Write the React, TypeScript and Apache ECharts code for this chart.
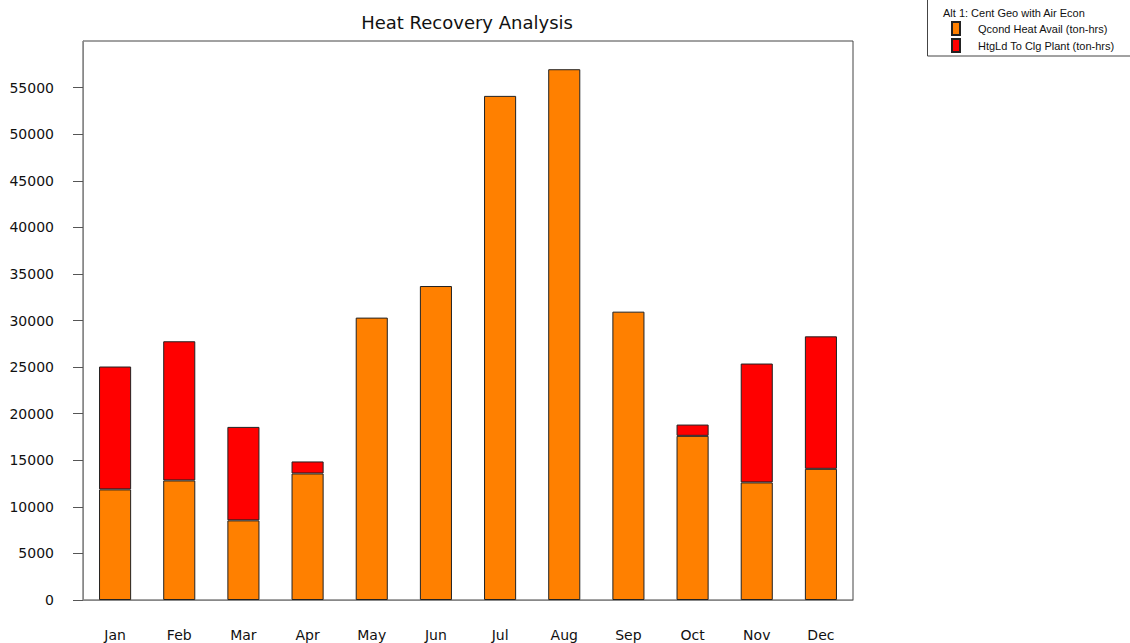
import React, { useEffect, useRef } from "react";
import * as echarts from "echarts";

const months = ["Jan", "Feb", "Mar", "Apr", "May", "Jun", "Jul", "Aug", "Sep", "Oct", "Nov", "Dec"];
const qcondHeatAvail = [11870, 12830, 8545, 13580, 30310, 33700, 54110, 56970, 30950, 17620, 12620, 14080];
const htgLdToClgPlant: (number | string)[] = [13190, 14940, 10035, 1290, "-", "-", "-", "-", "-", 1210, 12760, 14220];
const seriesNames = ["Qcond Heat Avail (ton-hrs)", "HtgLd To Clg Plant (ton-hrs)"];
const legendTitle = "Alt 1: Cent Geo with Air Econ";
const chartTitle = "Heat Recovery Analysis";

const FONT = "'Liberation Sans', Arial, sans-serif";
const WIDE = "'DejaVu Sans', sans-serif";

export default function App() {
  const ref = useRef<HTMLDivElement>(null);
  useEffect(() => {
    if (!ref.current) return;
    const chart = echarts.init(ref.current, undefined, { renderer: "svg" });
    chart.setOption({
      animation: false,
      backgroundColor: "#ffffff",
      title: {
        text: chartTitle,
        left: 462,
        textAlign: "center",
        top: 8,
        textStyle: { fontFamily: WIDE, fontSize: 18, fontWeight: "normal", color: "#111" },
      },
      legend: {
        orient: "vertical",
        left: 951,
        top: 21,
        padding: 0,
        itemWidth: 8,
        itemHeight: 13,
        itemGap: 2,
        icon: "rect",
        selectedMode: false,
        textStyle: { fontFamily: FONT, fontSize: 11, color: "#111", padding: [0, 0, 0, 13] },
        data: seriesNames,
      },
      graphic: [
        {
          type: "rect",
          shape: { x: 927.5, y: -2, width: 210, height: 58 },
          style: { fill: "none", stroke: "#444", lineWidth: 1 },
          silent: true,
        },
        {
          type: "text",
          x: 943,
          y: 7,
          style: { text: legendTitle, font: "11px " + FONT, fill: "#111" },
          silent: true,
        },
        {
          type: "line",
          shape: { x1: 73, y1: 600.5, x2: 83, y2: 600.5 },
          style: { stroke: "#888", lineWidth: 1 },
          silent: true,
        },
      ],
      grid: {
        left: 83,
        right: 277,
        top: 41,
        bottom: 43,
        show: true,
        borderColor: "#444",
        borderWidth: 1,
        backgroundColor: "transparent",
      },
      xAxis: {
        type: "category",
        data: months,
        axisLine: { lineStyle: { color: "#888", width: 1 } },
        axisTick: { alignWithLabel: true, length: 8, lineStyle: { color: "#666" } },
        axisLabel: { fontFamily: WIDE, fontSize: 14, color: "#111", margin: 28 },
      },
      yAxis: {
        type: "value",
        min: 0,
        max: 60000,
        interval: 5000,
        axisLine: { show: true, lineStyle: { color: "#888", width: 1 } },
        axisTick: { show: true, length: 10, lineStyle: { color: "#555" } },
        splitLine: { show: false },
        axisLabel: {
          fontFamily: WIDE,
          fontSize: 14,
          color: "#111",
          margin: 29,
          showMaxLabel: false,
          formatter: (v: number) => String(v),
        },
      },
      series: [
        {
          name: seriesNames[0],
          type: "bar",
          stack: "total",
          data: qcondHeatAvail,
          barWidth: "50%",
          itemStyle: { color: "#FF8000", borderColor: "#222", borderWidth: 1 },
        },
        {
          name: seriesNames[1],
          type: "bar",
          stack: "total",
          data: htgLdToClgPlant,
          barWidth: "50%",
          itemStyle: { color: "#FF0000", borderColor: "#222", borderWidth: 1 },
        },
      ],
    });
    return () => chart.dispose();
  }, []);
  return (
    <div
      ref={ref}
      style={{ position: "fixed", left: 0, top: 0, width: 1130, height: 643 }}
    />
  );
}
